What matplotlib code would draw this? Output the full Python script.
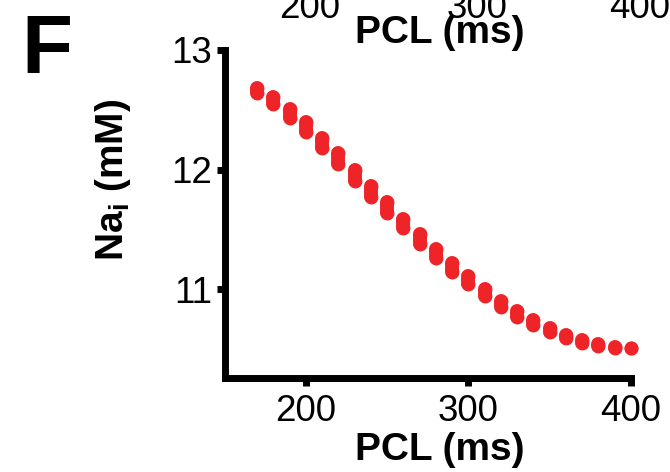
import matplotlib
matplotlib.use("Agg")
import matplotlib.pyplot as plt

plt.rcParams['font.family'] = ['Liberation Sans', 'DejaVu Sans']
plt.rcParams['mathtext.fontset'] = 'custom'
plt.rcParams['mathtext.rm'] = 'Liberation Sans'

# Pacing cycle length (ms) and intracellular Na+ (mM): upper and lower beat values
pcl = [170, 180, 190, 200, 210, 220, 230, 240, 250, 260, 270, 280,
       290, 300, 310, 320, 330, 340, 350, 360, 370, 380, 390, 400]
na_upper = [12.679, 12.610, 12.506, 12.395, 12.267, 12.135, 11.996, 11.859,
            11.725, 11.585, 11.460, 11.334, 11.215, 11.106, 11.000, 10.903,
            10.819, 10.740, 10.673, 10.615, 10.573, 10.537, 10.512, 10.503]
na_lower = [12.637, 12.545, 12.434, 12.314, 12.177, 12.043, 11.907, 11.770,
            11.636, 11.508, 11.376, 11.257, 11.142, 11.039, 10.941, 10.847,
            10.769, 10.698, 10.640, 10.587, 10.545, 10.523, 10.506, 10.506]

x_ticks = [200, 300, 400]
y_ticks = [11, 12, 13]

RED = '#EE2428'
W, H = 670, 472
fig = plt.figure(figsize=(W / 100, H / 100), dpi=100)
ax = fig.add_axes([224.5 / W, 1 - 378.3 / H, (631 - 224.5) / W, (378.3 - 50) / H])

# capsule-shaped markers spanning the two beat values
ax.vlines(pcl, na_lower, na_upper, colors=RED, linewidth=10, capstyle='round',
          zorder=3, clip_on=False)
ax.plot(pcl, na_upper, 'o', color=RED, markersize=10, markeredgewidth=0,
        zorder=3, clip_on=False)
ax.plot(pcl, na_lower, 'o', color=RED, markersize=10, markeredgewidth=0,
        zorder=3, clip_on=False)

ax.set_xlim(150, 400)
ax.set_ylim(10.253, 13)
ax.set_xticks(x_ticks)
ax.set_yticks(y_ticks)
ax.set_xticklabels([str(v) for v in x_ticks])
ax.set_yticklabels([str(v) for v in y_ticks])

for side in ('top', 'right'):
    ax.spines[side].set_visible(False)
for side in ('left', 'bottom'):
    ax.spines[side].set_linewidth(5)
    ax.spines[side].set_color('black')
    ax.spines[side].set_capstyle('projecting')

ax.tick_params(axis='both', direction='out', length=6, width=5, color='black',
               labelsize=26.5, pad=3)
ax.tick_params(axis='x', pad=5)

fig.text(440 / W, 1 - 460 / H, 'PCL (ms)', ha='center', va='baseline',
         fontsize=28, fontweight='bold')
fig.text(123 / W, 1 - 180 / H, r'Na$_\mathregular{i}$ (mM)', rotation=90,
         ha='center', va='baseline', fontsize=28, fontweight='bold',
         rotation_mode='anchor')

# panel letter
fig.text(21 / W, 1 - 73 / H, 'F', ha='left', va='baseline', fontsize=60,
         fontweight='bold')

# axis labels of the panel above, cut by the top edge
for val, xc in zip(x_ticks, [310, 477, 640]):
    fig.text(xc / W, 1 - 18 / H, str(val), ha='center', va='baseline',
             fontsize=26.5)
fig.text(440 / W, 1 - 43 / H, 'PCL (ms)', ha='center', va='baseline',
         fontsize=28, fontweight='bold')

fig.savefig('out.png', dpi=100)
